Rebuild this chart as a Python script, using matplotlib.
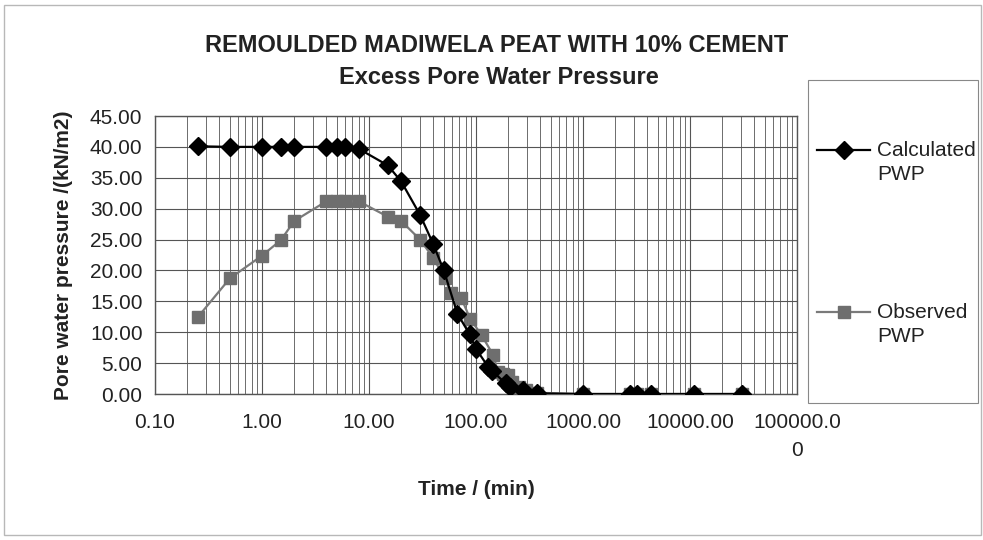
#!/usr/bin/env python3

import numpy as np
import matplotlib
matplotlib.use("Agg")
import matplotlib.pyplot as plt
from matplotlib.patches import Rectangle
from matplotlib.lines import Line2D


# ------------------------------------------------------------
# DATA
# ------------------------------------------------------------

calc_time = [0.25, 0.5, 1, 1.5, 2, 4, 5, 6, 8, 15, 20, 30, 40, 50, 67, 87, 100,
             130, 140, 190, 210, 275, 370, 1000, 2750, 3200, 4300, 11000, 30500]
calc_pwp = [40.1, 40.0, 40.0, 40.0, 40.0, 40.0, 40.0, 40.0, 39.7, 37.0, 34.4,
            29.0, 24.2, 20.0, 13.0, 9.7, 7.3, 4.4, 3.8, 1.7, 1.2, 0.6, 0.1,
            0.0, 0.0, 0.0, 0.0, 0.0, 0.0]

obs_time = [0.25, 0.5, 1, 1.5, 2, 4, 5, 6, 8, 15, 20, 30, 40, 51, 59, 73, 88,
            113, 145, 160, 180, 200, 215, 250, 295, 370, 1000, 2750, 3200,
            4300, 11000, 30500]
obs_pwp = [12.4, 18.7, 22.4, 24.9, 28.0, 31.2, 31.2, 31.2, 31.2, 28.7, 28.0,
           25.0, 22.0, 18.7, 16.3, 15.5, 12.2, 9.5, 6.3, 3.6, 3.3, 3.0, 2.0,
           1.2, 0.6, 0.2, 0.0, 0.0, 0.0, 0.0, 0.0, 0.0]

x_ticks = [0.1, 1, 10, 100, 1000, 10000, 100000]
x_labels = ["0.10", "1.00", "10.00", "100.00", "1000.00", "10000.00", "100000.0\n0"]
y_ticks = np.arange(0, 46, 5)

FONT = "Liberation Sans"


# ------------------------------------------------------------
# FIGURE
# ------------------------------------------------------------

fig = plt.figure(figsize=(9.83, 5.40), dpi=100)
fig.patches.append(Rectangle((0.004, 0.01), 0.994, 0.98, transform=fig.transFigure,
                             fill=False, edgecolor="#b8b8b8", lw=1.0))

ax = fig.add_axes([155 / 983, 1 - 394 / 540, 642 / 983, 278 / 540])

ax.plot(calc_time, calc_pwp, color="black", lw=1.6, marker="D", ms=9.5,
        mfc="black", mec="black", zorder=4)
ax.plot(obs_time, obs_pwp, color="#7a7a7a", lw=1.6, marker="s", ms=8,
        mfc="#6e6e6e", mec="#6e6e6e", zorder=3)

ax.set_xscale("log")
ax.set_xlim(0.1, 100000)
ax.set_ylim(0, 45)

ax.set_xticks(x_ticks)
ax.set_xticklabels(x_labels, fontsize=15, family=FONT, color="#222222",
                   linespacing=1.6)
ax.set_yticks(y_ticks)
ax.set_yticklabels([f"{v:.2f}" for v in y_ticks], fontsize=15, family=FONT,
                   color="#222222")
ax.xaxis.set_minor_formatter(matplotlib.ticker.NullFormatter())
ax.tick_params(axis="x", which="both", length=0, pad=14)
ax.tick_params(axis="y", which="both", length=0, pad=9)

# grid
ax.grid(True, which="major", axis="both", color="#555555", lw=0.8)
ax.grid(True, which="minor", axis="x", color="#555555", lw=0.6)
ax.set_axisbelow(True)
for s in ax.spines.values():
    s.set_color("#555555")
    s.set_linewidth(1.0)

ax.set_xlabel("Time / (min)", fontsize=15, fontweight="bold", family=FONT,
              color="#222222", labelpad=14)
ax.set_ylabel("Pore water pressure /(kN/m2)", fontsize=15, fontweight="bold",
              family=FONT, color="#222222", labelpad=12)

fig.text(497 / 983, 1 - 46 / 540, "REMOULDED MADIWELA PEAT WITH 10% CEMENT",
         ha="center", va="center", fontsize=17, fontweight="bold", family=FONT,
         color="#222222")
fig.text(499 / 983, 1 - 77 / 540, "Excess Pore Water Pressure",
         ha="center", va="center", fontsize=17, fontweight="bold", family=FONT,
         color="#222222")

# legend box
fig.patches.append(Rectangle((808 / 983, 1 - 403 / 540), 170 / 983, 323 / 540,
                             transform=fig.transFigure, fill=False,
                             edgecolor="#888888", lw=0.8))
entries = [
    (150, "black", "D", 9.5, "black", "Calculated\nPWP"),
    (312, "#7a7a7a", "s", 8, "#6e6e6e", "Observed\nPWP"),
]
for ypx, lc, mk, ms, mc, txt in entries:
    yf = 1 - ypx / 540
    fig.lines.append(Line2D([817 / 983, 870 / 983], [yf, yf], transform=fig.transFigure,
                            color=lc, lw=1.6))
    fig.lines.append(Line2D([843.5 / 983], [yf], transform=fig.transFigure,
                            marker=mk, ms=ms, color=mc, lw=0))
    fig.text(877 / 983, 1 - (ypx - 9) / 540, txt, ha="left", va="top",
             fontsize=15, family=FONT, linespacing=1.3, color="#222222")

fig.savefig("out.png", dpi=100)
